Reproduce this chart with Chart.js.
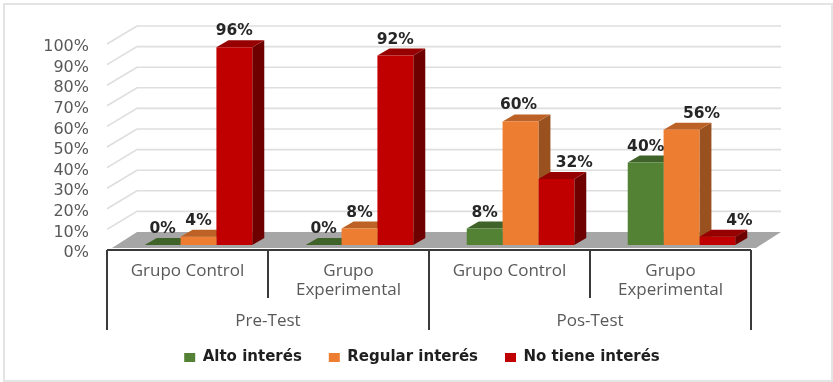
<!DOCTYPE html>
<html>
<head>
<meta charset="utf-8">
<script src="https://cdn.jsdelivr.net/npm/chart.js@4"></script>
<style>
  html, body { margin: 0; background: #fff; }
  canvas { display: block; }
  #frame { position: absolute; left: 3px; top: 3px; width: 826px; height: 375px; border: 2px solid #e4e4e4; pointer-events: none; }
</style>
</head>
<body>
<canvas id="interes" width="833" height="382"></canvas>
<div id="frame"></div>
<script>
const grupos = [['Grupo Control'], ['Grupo', 'Experimental'], ['Grupo Control'], ['Grupo', 'Experimental']]
const momentos = ['Pre-Test', 'Pos-Test']
const altoInteres = [0, 0, 8, 40]
const regularInteres = [4, 8, 60, 56]
const noTieneInteres = [96, 92, 32, 4]

// colours per series: front, top face, side face
const FACES = [
    ['#548235', '#3f6328', '#37561f'],
    ['#ED7D31', '#BC6226', '#98511f'],
    ['#C00000', '#960000', '#6e0000']
]
const BAR_DX = 12, BAR_DY = 7   // depth of each column
const WALL_DX = 19, WALL_DY = 13 // back wall relative to the columns' plane
const AXIS_SHIFT = -11 // axis drawn in front of the columns' plane
const LABEL_NUDGE = {'1:2': -2, '2:2': 18, '1:3': 20, '2:3': 22} // labels pushed clear of the taller neighbour

function poly(ctx, color, pts) {
    ctx.fillStyle = color
    ctx.beginPath()
    pts.forEach((p, i) => i ? ctx.lineTo(p[0], p[1]) : ctx.moveTo(p[0], p[1]))
    ctx.closePath()
    ctx.fill()
}

const room = {
    id: 'room',
    // the legend box has no x/y option, so it is moved once the layout is done
    afterLayout(chart) {
        const lg = chart.legend
        lg.left += 21
        lg.right += 21
        lg.top -= 7
        lg.bottom -= 7
    },
    // back wall, floor, axis brackets, then the side and top faces of the columns;
    // the library paints the fronts over all of it
    beforeDatasetsDraw(chart) {
        const {ctx, chartArea: a, scales: {y}} = chart
        ctx.save()
        ctx.strokeStyle = '#dedede'
        ctx.lineWidth = 1.6
        for (let v = 10; v <= 100; v += 10) {
            const py = y.getPixelForValue(v)
            ctx.beginPath()
            ctx.moveTo(a.left + AXIS_SHIFT, py + 5)
            ctx.lineTo(a.left + WALL_DX, py - WALL_DY)
            ctx.lineTo(a.right + WALL_DX, py - WALL_DY)
            ctx.stroke()
        }
        const base = y.getPixelForValue(0)
        poly(ctx, '#a6a6a6', [
            [a.left - 6, base + 3], [a.right - 6, base + 3],
            [a.right + WALL_DX, base - WALL_DY], [a.left + WALL_DX, base - WALL_DY]
        ])
        ctx.strokeStyle = '#3a3a3a'
        ctx.lineWidth = 2
        const catW = (a.right - a.left) / grupos.length
        const top = base + 5
        ctx.beginPath()
        ctx.moveTo(a.left + AXIS_SHIFT, top)
        ctx.lineTo(a.right + AXIS_SHIFT, top)
        for (let i = 0; i <= grupos.length; i++) {
            const px = a.left + AXIS_SHIFT + i * catW
            ctx.moveTo(px, top)
            ctx.lineTo(px, i % 2 ? base + 53 : base + 85)
        }
        ctx.stroke()
        FACES.forEach((faces, di) => {
            chart.getDatasetMeta(di).data.forEach(bar => {
                const l = bar.x - bar.width / 2, r = bar.x + bar.width / 2
                poly(ctx, faces[2], [[r, bar.y], [r + BAR_DX, bar.y - BAR_DY], [r + BAR_DX, bar.base - BAR_DY], [r, bar.base]])
                poly(ctx, faces[1], [[l, bar.y], [l + BAR_DX, bar.y - BAR_DY], [r + BAR_DX, bar.y - BAR_DY], [r, bar.y]])
            })
        })
        ctx.restore()
    },
    afterDatasetsDraw(chart) {
        const {ctx} = chart
        ctx.save()
        ctx.font = 'bold 15.5px "DejaVu Sans"'
        ctx.fillStyle = '#262626'
        ctx.textAlign = 'center'
        ctx.textBaseline = 'middle'
        chart.data.datasets.forEach((ds, di) => {
            chart.getDatasetMeta(di).data.forEach((bar, i) => {
                const nudge = LABEL_NUDGE[di + ':' + i] || 0
                ctx.fillText(ds.data[i] + '%', bar.x + nudge, bar.y - 16)
            })
        })
        ctx.restore()
    }
}

new Chart(document.getElementById('interes'), {
    type: 'bar',
    data: {
        labels: grupos,
        datasets: [
            {label: 'Alto interés', data: altoInteres, backgroundColor: FACES[0][0]},
            {label: 'Regular interés', data: regularInteres, backgroundColor: FACES[1][0]},
            {label: 'No tiene interés', data: noTieneInteres, backgroundColor: FACES[2][0]}
        ]
    },
    options: {
        responsive: false,
        animation: false,
        datasets: {bar: {categoryPercentage: 0.668, barPercentage: 1, borderWidth: 0}},
        layout: {padding: {left: 40, right: 71, top: 39, bottom: 0}},
        scales: {
            y: {
                min: 0, max: 100,
                afterFit: s => { s.width = 78 },
                grid: {display: false},
                border: {display: false},
                ticks: {
                    autoSkip: false, stepSize: 10, padding: 21, labelOffset: 8,
                    color: '#595959',
                    font: {family: 'DejaVu Sans', size: 16},
                    callback: v => v + '%'
                }
            },
            x: {
                afterFit: s => { s.height = 55 },
                grid: {display: false},
                border: {display: false},
                ticks: {
                    autoSkip: false, maxRotation: 0, padding: 9, labelOffset: AXIS_SHIFT,
                    color: '#595959',
                    font: {family: 'Open Sans', size: 17, lineHeight: 1.12}
                }
            },
            x2: {
                type: 'category',
                labels: momentos,
                position: 'bottom',
                weight: 1,
                afterFit: s => { s.height = 30 },
                grid: {display: false},
                border: {display: false},
                ticks: {
                    autoSkip: false, maxRotation: 0, padding: 4, labelOffset: AXIS_SHIFT,
                    color: '#595959',
                    font: {family: 'Open Sans', size: 17, lineHeight: 1.12}
                }
            }
        },
        plugins: {
            tooltip: {enabled: false},
            legend: {
                position: 'bottom',
                labels: {
                    boxWidth: 11, boxHeight: 9, padding: 27,
                    color: '#1f1f1f',
                    font: {family: 'DejaVu Sans', size: 15, weight: 'bold'}
                }
            }
        }
    },
    plugins: [room]
})
</script>
</body>
</html>
